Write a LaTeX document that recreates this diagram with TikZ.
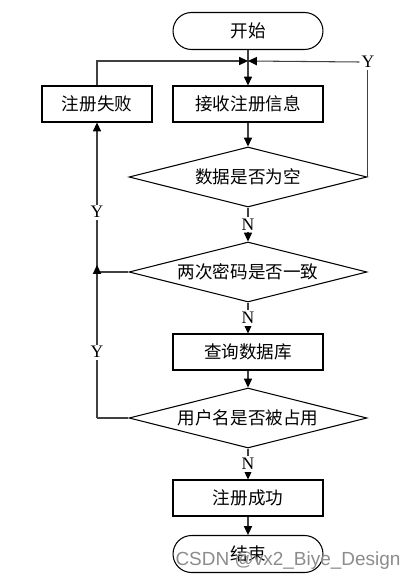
\documentclass[tikz,border=0pt]{standalone}
\usepackage{fontspec}
\setmainfont{Liberation Serif}
\newfontfamily\cjk{Noto Sans CJK SC}
\newfontfamily\marksans{Liberation Sans}
\usetikzlibrary{shapes.geometric,arrows.meta}

\tikzset{
    terminal/.style={draw, rounded corners=0.37cm, minimum width=3cm, minimum height=0.74cm, font=\cjk},
    procbox/.style={draw, minimum width=3cm, minimum height=0.72cm, font=\cjk},
    decision/.style={draw, diamond, aspect=4, inner sep=0pt, minimum width=4.76cm, minimum height=1.2cm, font=\cjk},
    flow/.style={draw=black!75, -{Triangle[length=5pt,width=4.6pt,color=black]}},
    plain/.style={draw=black!75},
    tag/.style={fill=white, inner sep=1pt, font=\normalsize}
}

\begin{document}
\begin{tikzpicture}[x=0.02cm, y=-0.02cm, line width=0.6pt]
    \useasboundingbox (0,0) rectangle (411,584);

    % Draw the nodes
    \node[terminal] (start) at (248,31) {开始};
    \node[procbox] (recv) at (248,104) {接收注册信息};
    \node[procbox, minimum width=2.2cm] (fail) at (97,104) {注册失败};
    \node[decision] (empty) at (248,177) {数据是否为空};
    \node[decision] (same) at (248,272) {两次密码是否一致};
    \node[procbox] (query) at (248,352) {查询数据库};
    \node[decision] (taken) at (248,418) {用户名是否被占用};
    \node[procbox] (ok) at (248,498) {注册成功};
    \node[terminal] (stop) at (248,554) {结束};

    \coordinate (merge) at (248,61);
    \coordinate (j2) at (97,272);
    \coordinate (j3) at (97,418);
    \coordinate (up) at (97,265);
    \node[tag] (yr) at (368,62) {Y};

    % Main flow
    \draw[plain] (start) -- (merge);
    \draw[flow] (merge) -- (recv);
    \draw[flow] (recv) -- (empty);
    \draw[flow] (empty.south) -- node[tag] {N} (same.north);
    \draw[flow] (same.south) -- node[tag] {N} (query.north);
    \draw[flow] (query) -- (taken);
    \draw[flow] (taken.south) -- node[tag] {N} (ok.north);
    \draw[flow] (ok) -- (stop);

    % Loops back
    \draw[plain] (empty.east) -- (empty.east |- yr.south);
    \draw[flow] (yr.west) -- (merge);
    \draw[flow] (fail.north) |- (merge);
    \draw[plain] (same.west) -- (j2);
    \draw[flow] (j2) -- node[tag, pos=0.4] {Y} (fail.south);
    \draw[plain] (taken.west) -- (j3);
    \draw[flow] (j3) -- node[tag, pos=0.43] {Y} (up);

    % Watermark
    \node[text=black!45, font=\marksans\fontsize{10.8}{13}\selectfont, inner sep=0pt] (mark) at (288,561) {CSDN @vx2\_Biye\_Design};
\end{tikzpicture}
\end{document}
